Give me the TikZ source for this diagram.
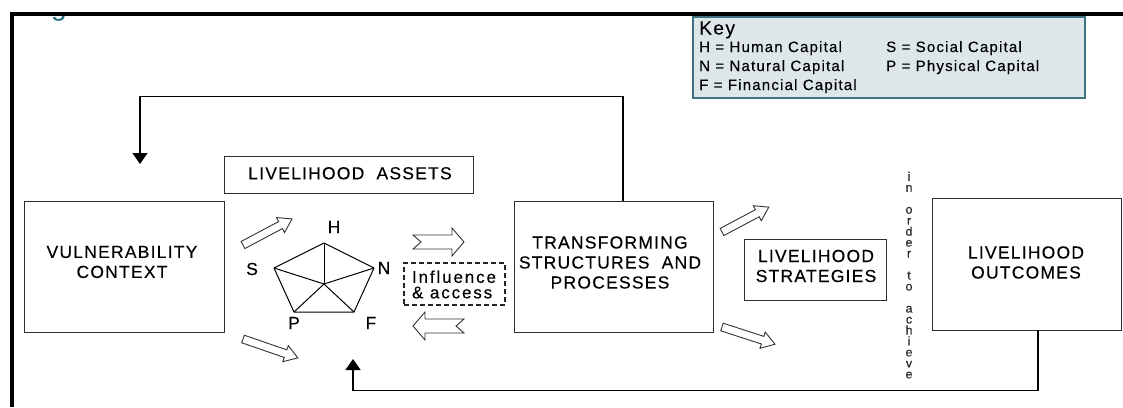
\documentclass[tikz,border=0pt]{standalone}
\usepackage{fontspec}
\setmainfont{Liberation Sans}
\newfontfamily\lbl[LetterSpace=7,FakeBold=0.3]{Liberation Sans}
\newfontfamily\lblwide[LetterSpace=11,FakeBold=0.3]{Liberation Sans}
\newfontfamily\keyfont[LetterSpace=8,FakeBold=0.2]{Liberation Sans}
\usetikzlibrary{arrows.meta}
\definecolor{keyfill}{HTML}{DDE6E8}
\definecolor{keyline}{HTML}{3F7281}
\definecolor{titleteal}{HTML}{1F6B80}
\definecolor{boxline}{HTML}{2E2E2E}
\tikzset{
  box/.style={draw=boxline, line width=0.9pt, inner sep=0pt},
  caps/.style={font=\lbl\fontsize{17.5}{20}\selectfont, align=center, inner sep=0pt, text=black},
  corner/.style={font=\lbl\fontsize{17.5}{18}\selectfont, inner sep=0pt, text=black},
  keytext/.style={font=\keyfont\fontsize{15}{16}\selectfont, anchor=base west, inner sep=0pt, text=black},
  feedback/.style={line width=1.5pt, -{Triangle[length=11pt,width=15pt]}},
  frame/.style={line width=4pt},
  pent/.style={line width=1pt, line join=round},
  blockline/.style={draw=black!80, line width=0.9pt, fill=white, line join=miter},
  pics/barrow/.style n args={5}{code={
    \draw[blockline] (0,#2) -- ({#1-#4},#2) -- ({#1-#4},#3) -- (#1,0)
      -- ({#1-#4},-#3) -- ({#1-#4},-#2) -- (0,-#2) -- (#5,0) -- cycle;
  }}
}
\begin{document}
\begin{tikzpicture}[x=1pt,y=-1pt]
\useasboundingbox (0,0) rectangle (1123,407);

% descender of the title line, cut by the frame
\begin{scope}
  \clip (40,16) rectangle (80,24);
  \node[font=\fontsize{28}{30}\selectfont, text=titleteal, anchor=base west, inner sep=0pt] (gfrag) at (51,15) {g};
\end{scope}

% frame
\draw[frame] (1123,14) -- (12,14) -- (12,407);

% key
\node[draw=keyline, line width=1.6pt, fill=keyfill, minimum width=392pt, minimum height=81pt, inner sep=0pt] (key) at (889,57.5) {};
\node[font=\keyfont\fontsize{19}{19}\selectfont, anchor=base west, inner sep=0pt] (keyhead) at (699,34.5) {Key};
\node[keytext] (kH) at (699,52) {H = Human Capital};
\node[keytext] (kN) at (699,71) {N = Natural Capital};
\node[keytext] (kF) at (699,90) {F = Financial Capital};
\node[keytext] (kS) at (886,52) {S = Social Capital};
\node[keytext] (kP) at (886,71) {P = Physical Capital};

% main boxes
\node[box, minimum width=200pt, minimum height=131pt] (vuln) at (124,266.5) {};
\node[caps] (vulntxt) at (122,262) {VULNERABILITY\\CONTEXT};

\node[box, minimum width=249pt, minimum height=37pt] (assets) at (348.5,174.5) {};
\node[caps] (assetstxt) at (350,173.3) {LIVELIHOOD\ \ ASSETS};

\node[box, minimum width=199pt, minimum height=131pt] (tsp) at (613.5,266.5) {};
\node[caps] (tsptxt) at (610,262.5) {TRANSFORMING\\STRUCTURES\ \ AND\\PROCESSES};

\node[box, minimum width=142pt, minimum height=61pt] (ls) at (815,269.5) {};
\node[caps] (lstxt) at (816,266) {LIVELIHOOD\\STRATEGIES};

\node[box, minimum width=189pt, minimum height=132pt] (lo) at (1026.5,264) {};
\node[caps] (lotxt) at (1026,262.5) {LIVELIHOOD\\OUTCOMES};

% influence & access
\node[draw=black!85, line width=1.5pt, dash pattern=on 5pt off 3pt, minimum width=101pt, minimum height=42pt, inner sep=0pt] (infl) at (454.5,284) {};
\node[font=\lblwide\fontsize{17}{15.5}\selectfont, align=left, inner sep=0pt, text=black] (infltxt) at (454,284.5) {Influence\\\&\ access};

% vertical phrase
\node[font=\lbl\fontsize{12.5}{10.98}\selectfont, align=center, anchor=north, inner sep=0pt, text=black!85] (order) at (909,171.5)
  {i\\n\\ \\o\\r\\d\\e\\r\\ \\t\\o\\ \\a\\c\\h\\i\\e\\v\\e};

% asset pentagon
\coordinate (pH) at (324,243);
\coordinate (pN) at (374,268);
\coordinate (pF) at (354,312);
\coordinate (pP) at (294,312);
\coordinate (pS) at (274,268);
\coordinate (pC) at (324,284);
\draw[pent] (pH) -- (pN) -- (pF) -- (pP) -- (pS) -- cycle;
\foreach \v in {pH,pN,pF,pP,pS} \draw[pent] (pC) -- (\v);
\node[corner] (lH) at (334,227) {H};
\node[corner] (lS) at (252,269) {S};
\node[corner] (lN) at (384,268) {N};
\node[corner] (lP) at (294,323) {P};
\node[corner] (lF) at (371,323) {F};

% hollow block arrows
\pic[rotate=28] at (243,245) {barrow={55.5}{4}{8.5}{13}{0}};
\pic[rotate=-19] at (243,339) {barrow={58}{4}{8.5}{13}{0}};
\pic[rotate=28] at (722,232) {barrow={53}{4}{8.5}{13}{0}};
\pic[rotate=-18] at (722,327) {barrow={55.7}{4}{8.5}{13}{0}};
\pic at (413,242) {barrow={51}{7}{14}{12}{8}};
\pic[rotate=180] at (464,326) {barrow={51}{7}{14}{12}{8}};

% feedback loops
\coordinate (vulnin) at (140,164);
\coordinate (assetsin) at (353,359);
\draw[feedback] ([xshift=9.5pt]tsp.north) -- ++(0,-104) -| (vulnin);
\draw[feedback] ([xshift=11.5pt]lo.south) -- ++(0,60) -| (assetsin);
\end{tikzpicture}
\end{document}
